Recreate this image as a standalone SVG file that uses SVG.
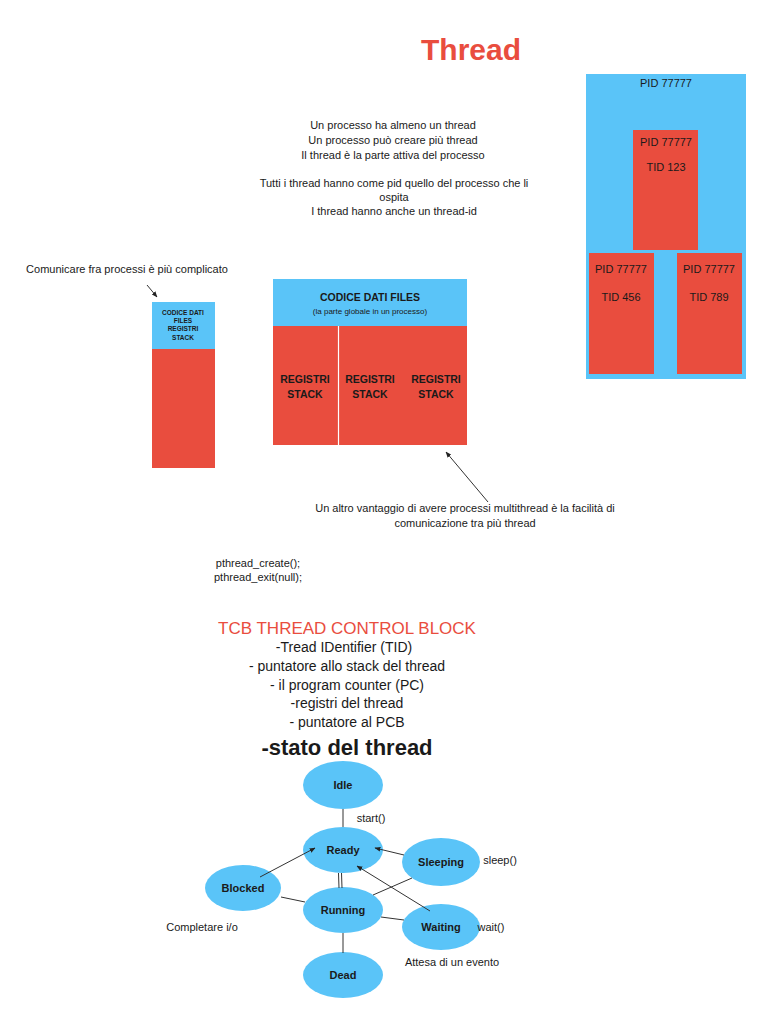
<svg xmlns="http://www.w3.org/2000/svg" width="768" height="1024" viewBox="0 0 768 1024">
<style>
text{font-family:"Liberation Sans",Arial,sans-serif;fill:#1a1a1a;text-anchor:middle}
.t{font-size:11px}
.b{font-weight:bold}
.blue{fill:#5AC4F8}
.red{fill:#E94D3E}
.ln{stroke:#333;stroke-width:1;fill:none}
.ar{stroke:#333;stroke-width:1;fill:none;marker-end:url(#ah)}
.st{font-size:11px;font-weight:bold}
</style>
<defs>
<marker id="ah" viewBox="0 0 10 10" refX="9" refY="5" markerWidth="6" markerHeight="6" orient="auto-start-reverse" markerUnits="userSpaceOnUse">
<path d="M0,1 L10,5 L0,9 z" fill="#222"/>
</marker>
</defs>
<rect width="768" height="1024" fill="#fff"/>

<g id="title">
<text x="471" y="60" style="font-size:30px;font-weight:bold;fill:#E94D3E">Thread</text>
</g>

<g id="pid-box">
<rect class="blue" x="586" y="74" width="160" height="305"/>
<text class="t" x="666" y="87">PID 77777</text>
<rect class="red" x="633" y="130" width="65" height="120"/>
<text class="t" x="666" y="146">PID 77777</text>
<text class="t" x="666" y="171">TID 123</text>
<rect class="red" x="589" y="253" width="65" height="121"/>
<text class="t" x="621" y="273">PID 77777</text>
<text class="t" x="621" y="301">TID 456</text>
<rect class="red" x="677" y="253" width="65" height="121"/>
<text class="t" x="709" y="273">PID 77777</text>
<text class="t" x="709" y="301">TID 789</text>
</g>

<g id="intro-text">
<text class="t" x="393" y="129">Un processo ha almeno un thread</text>
<text class="t" x="393" y="144">Un processo può creare più thread</text>
<text class="t" x="393" y="159">Il thread è la parte attiva del processo</text>
<text class="t" x="394" y="187">Tutti i thread hanno come pid quello del processo che li</text>
<text class="t" x="394" y="201">ospita</text>
<text class="t" x="394" y="215">I thread hanno anche un thread-id</text>
</g>

<g id="single-process">
<text class="t" x="127" y="273">Comunicare fra processi è più complicato</text>
<rect class="blue" x="152" y="302" width="63" height="47"/>
<rect class="red" x="152" y="349" width="63" height="119"/>
<text x="183" y="315" style="font-size:6.5px;font-weight:bold">CODICE DATI</text>
<text x="183" y="323" style="font-size:6.5px;font-weight:bold">FILES</text>
<text x="183" y="331" style="font-size:6.5px;font-weight:bold">REGISTRI</text>
<text x="183" y="340" style="font-size:6.5px;font-weight:bold">STACK</text>
</g>

<g id="multi-process">
<rect class="blue" x="273" y="279" width="194" height="47"/>
<text x="370" y="301" style="font-size:10.5px;font-weight:bold">CODICE DATI FILES</text>
<text x="370" y="314" style="font-size:8px">(la parte globale in un processo)</text>
<rect class="red" x="273" y="326" width="194" height="119"/>
<line x1="338.5" y1="326" x2="338.5" y2="445" stroke="#fff" stroke-width="1.2"/>
<text x="305" y="383" style="font-size:10.5px;font-weight:bold">REGISTRI</text>
<text x="305" y="398" style="font-size:10.5px;font-weight:bold">STACK</text>
<text x="370" y="383" style="font-size:10.5px;font-weight:bold">REGISTRI</text>
<text x="370" y="398" style="font-size:10.5px;font-weight:bold">STACK</text>
<text x="436" y="383" style="font-size:10.5px;font-weight:bold">REGISTRI</text>
<text x="436" y="398" style="font-size:10.5px;font-weight:bold">STACK</text>
</g>

<g id="multithread-note">
<text class="t" x="465" y="512">Un altro vantaggio di avere processi multithread è la facilità di</text>
<text class="t" x="465" y="527">comunicazione tra più thread</text>
</g>

<g id="code">
<text class="t" x="258" y="567">pthread_create();</text>
<text class="t" x="258" y="581">pthread_exit(null);</text>
</g>

<g id="tcb">
<text x="347" y="634" style="font-size:17px;fill:#E94D3E">TCB THREAD CONTROL BLOCK</text>
<text x="344" y="652" style="font-size:14px">-Tread IDentifier (TID)</text>
<text x="347" y="671" style="font-size:14px">- puntatore allo stack del thread</text>
<text x="347" y="690" style="font-size:14px">- il program counter (PC)</text>
<text x="347" y="708" style="font-size:14px">-registri del thread</text>
<text x="347" y="727" style="font-size:14px">- puntatore al PCB</text>
<text x="347" y="755" style="font-size:22px;font-weight:bold">-stato del thread</text>
</g>

<g id="idle"><ellipse class="blue" cx="343" cy="785" rx="40" ry="24"/><text class="st" x="343" y="789">Idle</text></g>
<g id="ready"><ellipse class="blue" cx="343" cy="850" rx="40" ry="23"/><text class="st" x="343" y="854">Ready</text></g>
<g id="sleeping"><ellipse class="blue" cx="441" cy="862" rx="39" ry="24"/><text class="st" x="441" y="866">Sleeping</text></g>
<g id="blocked"><ellipse class="blue" cx="243" cy="888" rx="38" ry="23"/><text class="st" x="243" y="892">Blocked</text></g>
<g id="running"><ellipse class="blue" cx="343" cy="910" rx="40" ry="23"/><text class="st" x="343" y="914">Running</text></g>
<g id="waiting"><ellipse class="blue" cx="441" cy="927" rx="39" ry="23"/><text class="st" x="441" y="931">Waiting</text></g>
<g id="dead"><ellipse class="blue" cx="343" cy="975" rx="40" ry="23"/><text class="st" x="343" y="979">Dead</text></g>

<g id="connectors">
<line class="ar" x1="147" y1="285" x2="157" y2="297"/>
<line class="ar" x1="488" y1="502" x2="446" y2="452"/>
<line class="ln" x1="343" y1="809" x2="343" y2="827"/>
<line class="ln" x1="338.5" y1="873" x2="339" y2="888"/>
<line class="ln" x1="341.5" y1="873" x2="342" y2="888"/>
<line class="ar" x1="260" y1="877" x2="315" y2="848"/>
<line class="ar" x1="404" y1="855" x2="375" y2="848"/>
<line class="ln" x1="412" y1="878" x2="373" y2="895"/>
<line class="ar" x1="430" y1="911" x2="357" y2="866"/>
<line class="ln" x1="281" y1="897" x2="305" y2="902"/>
<line class="ln" x1="381" y1="917" x2="404" y2="920"/>
<line class="ln" x1="343" y1="933" x2="343" y2="953"/>
</g>

<g id="state-labels">
<text class="t" x="371" y="822">start()</text>
<text class="t" x="500" y="864">sleep()</text>
<text class="t" x="491" y="931">wait()</text>
<text class="t" x="452" y="966">Attesa di un evento</text>
<text class="t" x="202" y="931">Completare i/o</text>
</g>
</svg>
